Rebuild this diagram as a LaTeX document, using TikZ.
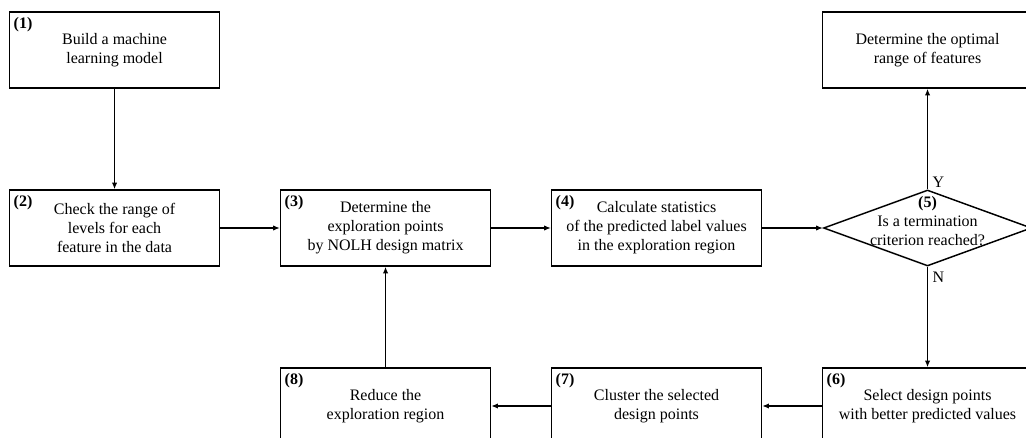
\documentclass[tikz,border=0pt]{standalone}
\usepackage{fontspec}
\setmainfont{Liberation Serif}
\usetikzlibrary{positioning,shapes.geometric,arrows.meta}

\begin{document}
\begin{tikzpicture}[>={Latex[length=5pt,width=4pt]},node distance=133.5pt and 203.25pt,on grid,auto,
    font=\fontsize{12}{14.2}\selectfont,
    stepbox/.style={draw,line width=1.1pt,minimum width=157.5pt,minimum height=57pt,align=center},
    decision/.style={draw,diamond,line width=1.1pt,minimum width=156pt,minimum height=57pt,inner sep=0pt},
    num/.style={anchor=north west,inner xsep=3.5pt,inner ysep=4.5pt,font=\fontsize{12}{14.2}\selectfont\bfseries},
    every edge/.style={draw,line width=0.9pt}]
    \useasboundingbox (0,0) rectangle (769.5pt,-328.5pt);
    \clip (0,0) rectangle (769.5pt,-328.5pt);

    \node[stepbox] (s1) at (85.9pt,-37.5pt) {Build a machine\\learning model};
    \node[stepbox] (s2) [below = of s1] {Check the range of\\levels for each\\feature in the data};
    \node[stepbox] (s3) [right = of s2] {Determine the\\exploration points\\by NOLH design matrix};
    \node[stepbox] (s4) [right = of s3] {Calculate statistics\\of the predicted label values\\in the exploration region};
    \node[decision] (s5) [right = of s4] {};
    \node[align=center] (t5) at ([yshift=5pt]s5.center) {\textbf{(5)}\\Is a termination\\criterion reached?};
    \node[stepbox] (opt) [above = of s5] {Determine the optimal\\range of features};
    \node[stepbox] (s6) [below = of s5] {Select design points\\with better predicted values};
    \node[stepbox] (s7) [left = of s6] {Cluster the selected\\design points};
    \node[stepbox] (s8) [left = of s7] {Reduce the\\exploration region};

    % step numbers
    \foreach \i in {1,2,3,4,6,7,8}
      \node[num] (n\i) at (s\i.north west) {(\i)};

    \path[->]
    (s1) edge (s2)
    (s2) edge (s3)
    (s3) edge (s4)
    (s4) edge (s5)
    (s5)
    edge node [pos=0.07,anchor=west] {Y} (opt)
    edge node [pos=0.1,anchor=west] {N} (s6)
    (s6) edge (s7)
    (s7) edge (s8)
    (s8) edge (s3)
    ;
\end{tikzpicture}
\end{document}
